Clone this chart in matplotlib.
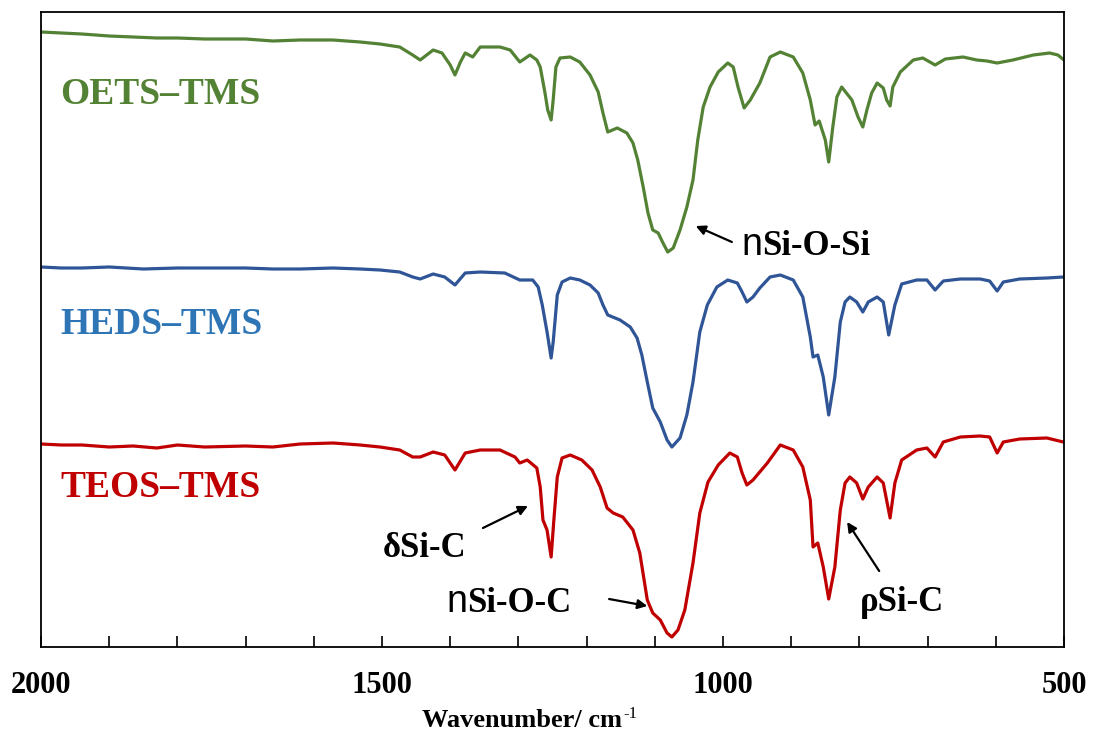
import numpy as np
import matplotlib
matplotlib.use("Agg")
import matplotlib.pyplot as plt
from matplotlib.ticker import MultipleLocator

# FTIR spectra, stacked (arbitrary units)
oets_wn = [2000, 1970, 1940, 1900, 1865, 1830, 1800, 1760, 1700, 1660, 1620, 1572, 1532, 1503,
           1474, 1455, 1444, 1425, 1412, 1400, 1393, 1385, 1378, 1367, 1356, 1327, 1312, 1298,
           1283, 1273, 1268, 1261, 1257, 1252, 1249, 1245, 1239, 1224, 1210, 1195, 1183, 1176,
           1169, 1155, 1141, 1132, 1125, 1117, 1110, 1103, 1095, 1088, 1081, 1073, 1063, 1053,
           1044, 1037, 1029, 1019, 1007, 993, 985, 978, 969, 960, 946, 931, 916, 897, 883, 872,
           865, 859, 850, 845, 839, 833, 826, 811, 802, 795, 789, 782, 774, 765, 760, 755, 751,
           740, 721, 707, 689, 674, 648, 628, 613, 598, 575, 545, 521, 509, 500]
oets = [615, 614, 613, 611, 610, 609, 609, 608, 608, 606, 607, 607, 605, 603,
        600, 592, 587, 597, 594, 582, 572, 585, 594, 590, 600, 600, 597, 585,
        592, 587, 580, 554, 537, 527, 547, 580, 589, 590, 585, 572, 555, 534,
        515, 519, 514, 504, 487, 460, 434, 417, 414, 404, 395, 399, 417, 440,
        467, 507, 540, 560, 575, 584, 580, 560, 539, 547, 564, 590, 595, 590, 574, 547,
        522, 526, 507, 485, 520, 550, 560, 547, 530, 520, 537, 554, 564, 559, 547, 541, 560,
        575, 587, 589, 582, 588, 590, 587, 586, 584, 587, 592, 594, 592, 587]

heds_wn = [2000, 1970, 1940, 1900, 1850, 1800, 1760, 1700, 1660, 1620, 1572, 1532, 1503, 1474,
           1455, 1444, 1425, 1408, 1393, 1378, 1356, 1320, 1298, 1279, 1271, 1265, 1258, 1252,
           1249, 1243, 1236, 1224, 1210, 1195, 1183, 1176, 1169, 1151, 1136, 1126, 1119, 1111,
           1103, 1092, 1082, 1075, 1063, 1053, 1044, 1034, 1023, 1009, 993, 979, 972, 965, 956,
           946, 931, 916, 897, 883, 872, 868, 861, 853, 845, 836, 828, 821, 814, 804, 795, 787,
           774, 765, 757, 748, 738, 716, 701, 689, 677, 652, 623, 609, 598, 589, 565, 525, 501]
heds = [380, 379, 379, 380, 378, 379, 379, 379, 378, 378, 379, 378, 377, 375,
        370, 368, 373, 370, 362, 374, 375, 374, 367, 367, 360, 342, 315, 289,
        305, 352, 365, 369, 367, 362, 354, 342, 332, 327, 320, 309, 292, 265,
        239, 225, 207, 200, 209, 232, 265, 315, 342, 360, 367, 364, 355, 345, 350,
        359, 370, 372, 367, 350, 310, 290, 292, 270, 232, 270, 325, 345, 350, 345, 335, 345,
        350, 345, 312, 342, 363, 367, 367, 357, 366, 368, 368, 366, 356, 365, 368, 369, 370]

teos_wn = [2000, 1970, 1940, 1900, 1865, 1830, 1800, 1760, 1700, 1660, 1620, 1572, 1532, 1503,
           1474, 1455, 1444, 1425, 1408, 1393, 1378, 1356, 1327, 1305, 1298, 1287, 1273, 1268,
           1264, 1258, 1252, 1248, 1243, 1236, 1224, 1207, 1192, 1180, 1170, 1161, 1147, 1132,
           1122, 1111, 1103, 1092, 1082, 1075, 1066, 1056, 1044, 1034, 1022, 1007, 990, 979,
           972, 965, 956, 935, 916, 897, 883, 872, 868, 861, 853, 845, 836, 828, 821, 814, 804,
           795, 787, 774, 765, 755, 748, 738, 716, 701, 689, 677, 652, 623, 609, 598, 589, 565,
           525, 501]
teos = [203, 202, 202, 200, 201, 199, 202, 200, 201, 200, 203, 204, 202, 200,
        197, 190, 190, 195, 192, 177, 194, 197, 197, 190, 184, 187, 179, 160,
        127, 117, 90, 127, 170, 189, 192, 187, 177, 160, 139, 134, 130, 117,
        94, 47, 34, 27, 14, 10, 17, 37, 84, 134, 165, 182, 194, 190,
        174, 162, 167, 184, 202, 197, 180, 147, 100, 104, 80, 48, 80, 137, 164, 170, 164,
        148, 160, 170, 164, 129, 164, 187, 197, 199, 190, 205, 210, 211, 210, 194, 205, 208,
        209, 205]

names = ["OETS\u2013TMS", "HEDS\u2013TMS", "TEOS\u2013TMS"]
line_colors = ["#548235", "#2F5597", "#C00000"]
text_colors = ["#548235", "#2E75B6", "#C00000"]
name_y = [543, 313, 150]

plt.rcParams['font.family'] = ['Liberation Serif', 'DejaVu Serif']
plt.rcParams['font.weight'] = 'bold'

fig = plt.figure(figsize=(10.93, 7.33), dpi=100)
ax = fig.add_axes([41 / 1093, 1 - 647 / 733, 1023 / 1093, 635 / 733])

for wn, y, c in zip([oets_wn, heds_wn, teos_wn], [oets, heds, teos], line_colors):
    ax.plot(wn, y, color=c, lw=2.3, solid_joinstyle='round')

for n, c, yy in zip(names, text_colors, name_y):
    ax.text(1972, yy, n, color=c, fontsize=27, fontweight='bold', va='baseline', ha='left')

ax.set_xlim(2000, 500)
ax.set_ylim(0, 635)
ax.set_yticks([])
ax.xaxis.set_major_locator(MultipleLocator(500))
ax.xaxis.set_minor_locator(MultipleLocator(100))
ax.tick_params(axis='x', which='both', direction='in', length=8, width=1.2, pad=17,
               labelsize=22)
for s in ax.spines.values():
    s.set_linewidth(1.3)

arrow = dict(arrowstyle='-|>', color='black', lw=1.6, mutation_scale=14, shrinkA=0, shrinkB=0)


def label(x, y, rest, fs=25):
    # "n" stands for the nu glyph, drawn as a plain sans n in the original
    ax.text(x, y, rest, fontsize=fs, fontweight='bold', va='baseline', ha='left')
    ax.text(x, y, 'n', fontsize=fs + 2, fontweight='normal', family='Liberation Sans',
            va='baseline', ha='right')


# nSi-O-Si
label(943, 392, 'Si-O-Si')
ax.annotate('', xy=(1040, 421), xytext=(987, 405), arrowprops=arrow)
# dSi-C
ax.text(1437, 90, '\u03b4Si-C', fontsize=25, fontweight='bold', va='baseline', ha='center')
ax.annotate('', xy=(1286, 141), xytext=(1352, 119), arrowprops=arrow)
# nSi-O-C
label(1375, 35, 'Si-O-C')
ax.annotate('', xy=(1111, 41), xytext=(1167, 48), arrowprops=arrow)
# rho Si-C
ax.text(799, 36, '\u03c1Si-C', fontsize=25, fontweight='bold', va='baseline', ha='left')
ax.annotate('', xy=(818, 125), xytext=(771, 76), arrowprops=arrow)

# axis title with a small plain "-1" superscript
xl = fig.text(422 / 1093, 1 - 727 / 733, 'Wavenumber/ cm', fontsize=19, fontweight='bold',
              ha='left', va='baseline')
fig.canvas.draw()
bb = xl.get_window_extent()
fig.text((bb.x1 + 1) / 1093, 1 - 718 / 733, '-1', fontsize=12, fontweight='normal',
         ha='left', va='baseline')

fig.savefig('out.png', dpi=100)
